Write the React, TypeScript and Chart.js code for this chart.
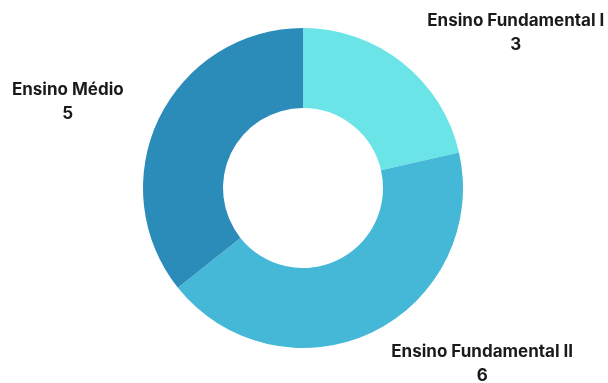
import React, { useEffect, useRef } from "react";
import { Chart, registerables } from "chart.js";

Chart.register(...registerables);

const categories = ["Ensino Fundamental I", "Ensino Fundamental II", "Ensino Médio"];
const values = [3, 6, 5];
const colors = ["#6be4e8", "#44b8d6", "#2b8cb9"];
// label anchor offsets, in units of the outer radius, from the doughnut centre
const labelOffsetX = [1.33, 1.12, -1.47];
const labelOffsetY = [-0.97, 1.1, -0.54];

const labelPlugin = {
  id: "outerLabels",
  afterDraw(chart: any) {
    const ctx = chart.ctx;
    const meta = chart.getDatasetMeta(0);
    const arc = meta.data[0];
    if (!arc) return;
    const cx = arc.x;
    const cy = arc.y;
    const r = arc.outerRadius;
    ctx.save();
    ctx.fillStyle = "#1a1a1a";
    ctx.textAlign = "center";
    ctx.textBaseline = "middle";
    ctx.font = "700 17px Inter, 'Noto Sans', sans-serif";
    categories.forEach((c, i) => {
      const x = cx + labelOffsetX[i] * r;
      const y = cy + labelOffsetY[i] * r;
      ctx.fillText(c, x, y - 12);
      ctx.fillText(String(values[i]), x, y + 12);
    });
    ctx.restore();
  },
};

export default function App() {
  const ref = useRef<HTMLCanvasElement | null>(null);
  useEffect(() => {
    if (!ref.current) return;
    const chart = new Chart(ref.current, {
      type: "doughnut",
      data: {
        labels: categories,
        datasets: [
          {
            data: values,
            backgroundColor: colors,
            borderWidth: 0,
          },
        ],
      },
      options: {
        animation: false,
        responsive: true,
        maintainAspectRatio: false,
        cutout: "50%",
        layout: { padding: { top: 28, bottom: 35, left: 143, right: 145 } },
        plugins: {
          legend: { display: false },
          tooltip: { enabled: false },
        },
      },
      plugins: [labelPlugin],
    });
    return () => chart.destroy();
  }, []);
  return (
    <div style={{ position: "fixed", left: 0, top: 0, width: 608, height: 383, background: "#fff" }}>
      <canvas ref={ref} />
    </div>
  );
}
